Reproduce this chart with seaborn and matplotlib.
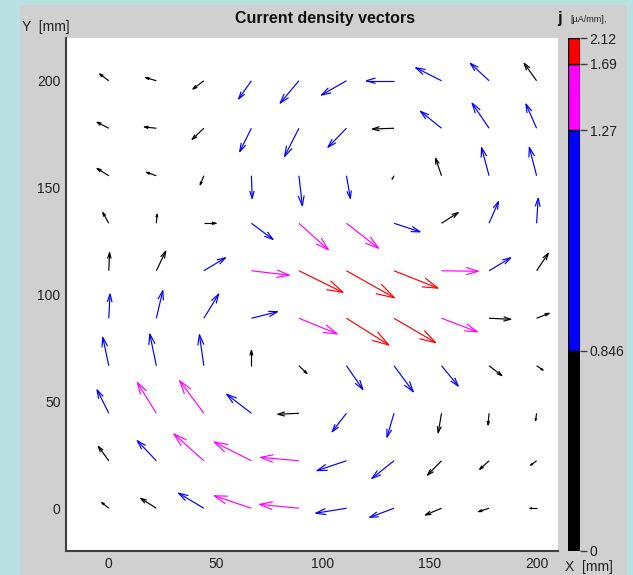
import numpy as np
import matplotlib
matplotlib.use("Agg")
import matplotlib.pyplot as plt
from matplotlib.collections import LineCollection
from matplotlib.patches import Rectangle
import seaborn as sns

# ---------------- data ----------------
x_grid = [0.0, 22.22, 44.44, 66.67, 88.89, 111.11, 133.33, 155.56, 177.78, 200.0]
y_grid = [0.0, 22.22, 44.44, 66.67, 88.89, 111.11, 133.33, 155.56, 177.78, 200.0]

# current density components [uA/mm^2], rows from y=0 (first) to y=200 (last)
jx_rows = [
    [-0.27, -0.60, -0.97, -1.43, -1.51, -1.18, -0.93, -0.62, -0.40, -0.26],
    [-0.40, -0.73, -1.15, -1.43, -1.47, -1.13, -0.85, -0.54, -0.36, -0.23],
    [-0.45, -0.73, -0.93, -0.95, -0.81, -0.55, -0.27, -0.13, -0.04, -0.04],
    [-0.23, -0.25, -0.17, 0.00, 0.31, 0.63, 0.74, 0.64, 0.49, 0.25],
    [0.05, 0.25, 0.57, 1.00, 1.47, 1.63, 1.60, 1.37, 0.83, 0.48],
    [0.03, 0.36, 0.83, 1.45, 1.69, 1.84, 1.69, 1.41, 0.83, 0.45],
    [-0.23, 0.03, 0.46, 0.83, 1.13, 1.23, 1.00, 0.64, 0.36, 0.06],
    [-0.45, -0.38, -0.14, 0.03, 0.13, 0.15, -0.07, -0.23, -0.29, -0.28],
    [-0.45, -0.46, -0.45, -0.45, -0.55, -0.71, -0.83, -0.81, -0.65, -0.41],
    [-0.35, -0.41, -0.42, -0.49, -0.72, -0.96, -1.06, -0.99, -0.72, -0.48],
]
jy_rows = [
    [0.22, 0.38, 0.58, 0.48, 0.15, -0.19, -0.35, -0.26, -0.13, 0.00],
    [0.55, 0.77, 1.03, 0.72, 0.13, -0.38, -0.68, -0.55, -0.33, -0.17],
    [0.90, 1.18, 1.25, 0.73, -0.04, -0.71, -0.92, -0.75, -0.45, -0.28],
    [1.09, 1.22, 1.19, 0.59, -0.30, -0.91, -1.00, -0.78, -0.38, -0.17],
    [0.93, 1.06, 0.93, 0.25, -0.60, -1.03, -0.94, -0.52, -0.04, 0.19],
    [0.70, 0.75, 0.50, -0.17, -0.83, -1.04, -0.67, -0.02, 0.50, 0.67],
    [0.41, 0.35, 0.00, -0.62, -1.02, -0.96, -0.33, 0.41, 0.83, 0.96],
    [0.28, 0.13, -0.35, -0.87, -1.15, -0.87, -0.13, 0.67, 1.08, 1.09],
    [0.23, 0.05, -0.43, -0.90, -1.08, -0.73, -0.03, 0.65, 0.96, 0.93],
    [0.26, 0.12, -0.32, -0.70, -0.86, -0.55, 0.00, 0.50, 0.67, 0.67],
]

levels = [0.0, 0.846, 1.27, 1.69, 2.12]
level_labels = ["0", "0.846", "1.27", "1.69", "2.12"]
level_colors = ["#000000", "#0000ff", "#ff00ff", "#ff0000"]
x_ticks = [0, 50, 100, 150, 200]
y_ticks = [0, 50, 100, 150, 200]

# ---------------- style ----------------
sns.set_style("white")
plt.rcParams["font.family"] = ["Liberation Sans", "DejaVu Sans"]

W, H = 633, 575
fig = plt.figure(figsize=(W / 100, H / 100), dpi=100)
fig.patch.set_facecolor("#b9e0e3")
fig.add_artist(Rectangle((20 / W, 0), 607 / W, 570 / H, transform=fig.transFigure,
                         facecolor="#d0d0d0", edgecolor="none", zorder=-10))

ax = fig.add_axes([66 / W, 24 / H, 492 / W, 513 / H])
ax.set_facecolor("white")
ax.set_xlim(-20, 210)
ax.set_ylim(-20, 220)

XX, YY = np.meshgrid(np.array(x_grid), np.array(y_grid))
U = np.array(jx_rows)
V = np.array(jy_rows)
mag = np.hypot(U, V)

scale = 12.17  # data units per uA/mm^2
u = U * scale
v = V * scale
alpha, beta = 0.33, 0.3
cls = np.clip(np.digitize(mag, levels[1:-1]), 0, 3)

for k, col in enumerate(level_colors):
    segs = []
    m = cls == k
    for x0, y0, du, dv in zip(XX[m], YY[m], u[m], v[m]):
        tx, ty = x0 + du, y0 + dv
        segs.append([(x0, y0), (tx, ty)])
        h1 = (tx - alpha * (du + beta * dv), ty - alpha * (dv - beta * du))
        h2 = (tx - alpha * (du - beta * dv), ty - alpha * (dv + beta * du))
        segs.append([h1, (tx, ty), h2])
    ax.add_collection(LineCollection(segs, colors=col, linewidths=0.85))

for side in ["top", "right"]:
    ax.spines[side].set_visible(False)
for side in ["left", "bottom"]:
    ax.spines[side].set_color("#404040")
    ax.spines[side].set_linewidth(1.5)
ax.set_xticks(x_ticks)
ax.set_yticks(y_ticks)
ax.tick_params(direction="in", length=5, width=1, color="#404040",
               labelsize=10, labelcolor="#202020", pad=4)

fig.text(325 / W, 1 - 18 / H, "Current density vectors", ha="center", va="center",
         fontsize=11.5, fontweight="bold", color="#101010")
fig.text(22 / W, 1 - 27 / H, "Y  [mm]", ha="left", va="center", fontsize=10, color="#202020")
fig.text(565 / W, 1 - 567 / H, "X  [mm]", ha="left", va="center", fontsize=10, color="#202020")
fig.text(557 / W, 1 - 19 / H, "j", ha="left", va="center", fontsize=12,
         fontweight="bold", color="#101010")
fig.text(570 / W, 1 - 19 / H, "[µA/mm],", ha="left", va="center", fontsize=6.5, color="#202020")

# ---------------- colour bar (segments proportional to vector counts) ----------------
cax = fig.add_axes([568 / W, 24 / H, 12 / W, 513 / H])
counts = np.array([np.sum(cls == k) for k in range(4)])
bottoms = np.concatenate([[0], np.cumsum(counts)[:-1]])
cax.bar(np.zeros(4), counts, bottom=bottoms, width=1.0, color=level_colors,
        edgecolor="black", linewidth=1.0)
cax.set_xlim(-0.5, 0.5)
cax.set_ylim(0, counts.sum())
cax.set_xticks([])
cax.set_yticks(np.concatenate([[0], np.cumsum(counts)]))
cax.set_yticklabels(level_labels)
cax.yaxis.tick_right()
cax.tick_params(axis="y", direction="out", length=5, width=1, color="#404040",
                labelsize=10, labelcolor="#202020", pad=2)
for s in cax.spines.values():
    s.set_visible(False)
cax.set_facecolor("none")

fig.savefig("out.png", dpi=100, facecolor=fig.get_facecolor())
